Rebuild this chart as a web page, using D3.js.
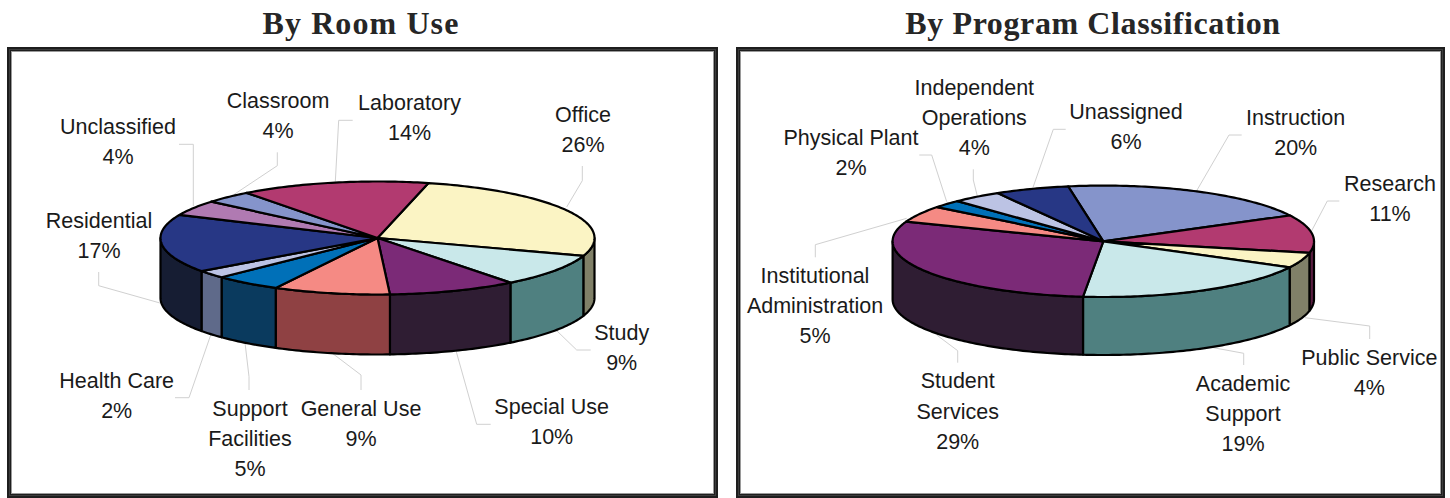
<!DOCTYPE html>
<html>
<head>
<meta charset="utf-8">
<script src="https://cdn.jsdelivr.net/npm/d3@7"></script>
<style>
  html, body { margin: 0; padding: 0; background: #fff; }
  svg { display: block; }
</style>
</head>
<body>
<div class="canvas"></div>
<script>
// By Room Use, shares, labels show them rounded
const roomCategories = ["Office", "Study", "Special Use", "General Use", "Support\nFacilities", "Health Care", "Residential", "Unclassified", "Classroom", "Laboratory"];
const roomValues = [26.4, 9.4, 9.6, 8.7, 5, 2.3, 16.7, 4.4, 3.6, 14.1];

// By Program Classification
const programCategories = ["Instruction", "Research", "Public Service", "Academic\nSupport", "Student\nServices", "Institutional\nAdministration", "Physical Plant", "Independent\nOperations", "Unassigned"];
const programValues = [20, 11, 4.4, 18.8, 29.2, 4.8, 2.3, 3.8, 5.7];

// colours, same order as the values above
const roomTop = ["#fbf4c4", "#c9e8ea", "#7b2a77", "#f58a84", "#0070b8", "#bcc3e4", "#273785", "#b07ab2", "#8594cb", "#b23a70"];
const roomWall = ["#808068", "#4f8080", "#2f1d33", "#8f4143", "#0a3a5e", "#5f6a8a", "#161d33", "#5a3e5c", "#444c68", "#5b1f42"];
const programTop = ["#8594cb", "#b23a70", "#fbf4c4", "#c9e8ea", "#7b2a77", "#f58a84", "#0070b8", "#bcc3e4", "#273785"];
const programWall = ["#444c68", "#5b1f42", "#808068", "#4f8080", "#2f1d33", "#8f4143", "#0a3a5e", "#5f6a8a", "#161d33"];

// label layout: x centre, first baseline, leader polyline
const roomLayout = [
  { x: 583, y: 122, leader: [[582.3, 166], [582.3, 180.7], [566.7, 207]] },
  { x: 621.7, y: 340, leader: [[590.7, 350], [576.7, 350], [556, 330]] },
  { x: 551.7, y: 414, leader: [[490.7, 424.3], [476.7, 424.3], [456, 350.7]] },
  { x: 361, y: 416, leader: [[361, 390], [361, 375], [332, 353]] },
  { x: 250, y: 416, leader: [[249, 390], [249, 376.7], [245, 342.7]] },
  { x: 116.7, y: 387.5, leader: [[175, 397.7], [189, 397.7], [210.7, 335]] },
  { x: 99, y: 227.7, leader: [[98.7, 272], [98.7, 285.7], [160, 303]] },
  { x: 118, y: 134, leader: [[179, 144.3], [193.3, 144.3], [193.3, 206]] },
  { x: 278, y: 107.7, leader: [[277.3, 152.3], [277.3, 165.7], [234.3, 194.3]] },
  { x: 409.5, y: 110, leader: [[352.7, 120.3], [338.7, 120.3], [335.3, 181.7]] }
];
const programLayout = [
  { x: 1295.7, y: 125, leader: [[1241.7, 135], [1229, 135], [1196.7, 190.7]] },
  { x: 1390, y: 190.7, leader: [[1339.3, 201], [1327.3, 201], [1311.7, 230.7]] },
  { x: 1369.3, y: 364.5, leader: [[1369.7, 339], [1369.7, 326], [1305, 317.7]] },
  { x: 1243, y: 390.7, leader: [[1243.7, 365], [1243.7, 353.3], [1213.3, 347.7]] },
  { x: 957.7, y: 388.3, leader: [[957.7, 362.7], [957.7, 350.7], [936.7, 335]] },
  { x: 815, y: 282.7, leader: [[815.3, 257.3], [815.3, 244.7], [906.7, 218.3]] },
  { x: 851, y: 145, leader: [[919.3, 155], [931.7, 155], [946.7, 201.7]] },
  { x: 974.3, y: 95, leader: [[973.3, 169.3], [973.3, 180], [977.3, 196]] },
  { x: 1126, y: 119, leader: [[1065.7, 129.3], [1053.3, 129.3], [1032.7, 188.3]] }
];

const svg = d3
  .select(".canvas")
  .append("svg")
  .attr("width", 1450)
  .attr("height", 498);

svg.append("rect").attr("width", 1450).attr("height", 498).attr("fill", "white");

const lineHeight = 30.2;
const deg = Math.PI / 180;

function drawFrame(x0, y0, x1, y1) {
  const g = svg.append("g");
  g.append("rect")
    .attr("x", x0).attr("y", y0)
    .attr("width", x1 - x0).attr("height", y1 - y0)
    .attr("fill", "#1e1e1e");
  g.append("rect")
    .attr("x", x0 + 2.5).attr("y", y0 + 2.5)
    .attr("width", x1 - x0 - 5).attr("height", y1 - y0 - 5)
    .attr("fill", "none")
    .attr("stroke", "#3c3c3c");
  g.append("rect")
    .attr("x", x0 + 4).attr("y", y0 + 4)
    .attr("width", x1 - x0 - 8).attr("height", y1 - y0 - 8)
    .attr("fill", "#9a9a9a");
  g.append("rect")
    .attr("x", x0 + 5).attr("y", y0 + 5)
    .attr("width", x1 - x0 - 10).attr("height", y1 - y0 - 10)
    .attr("fill", "white");
}

function drawTitle(text, x, spacing) {
  svg
    .append("text")
    .text(text)
    .attr("x", x)
    .attr("y", 34)
    .attr("text-anchor", "middle")
    .attr("font-family", "'Liberation Serif', serif")
    .attr("font-weight", "bold")
    .attr("font-size", 32)
    .attr("letter-spacing", spacing)
    .attr("fill", "#262626");
}

// one 3D pie. geo = centre, radii, depth and the angle of the first slice
function drawPie(categories, values, topColors, wallColors, layout, geo) {
  const xScale = d3.scaleLinear().domain([-1, 1]).range([geo.cx - geo.rx, geo.cx + geo.rx]);
  const yScale = d3.scaleLinear().domain([-1, 1]).range([geo.cy - geo.ry, geo.cy + geo.ry]);

  const slices = d3
    .pie()
    .sort(null)
    .startAngle(geo.start * deg)
    .endAngle(geo.start * deg + 2 * Math.PI)(values);

  const line = d3.line();

  function rim(a0, a1) {
    const n = Math.max(2, Math.ceil((a1 - a0) / deg));
    return d3.range(n + 1).map((i) => {
      const a = a0 + ((a1 - a0) * i) / n;
      return [xScale(Math.sin(a)), yScale(-Math.cos(a))];
    });
  }

  // leader lines go under the pie
  svg
    .append("g")
    .selectAll("path")
    .data(layout)
    .enter()
    .append("path")
    .attr("d", (d) => line(d.leader))
    .attr("fill", "none")
    .attr("stroke", "#d0d0d0")
    .attr("stroke-width", 1);

  // walls, only the front half (90 to 270 deg) can be seen
  const walls = svg.append("g");
  slices.forEach((s, i) => {
    [0, 2 * Math.PI].forEach((turn) => {
      const a0 = Math.max(s.startAngle, 90 * deg + turn);
      const a1 = Math.min(s.endAngle, 270 * deg + turn);
      if (a1 <= a0) return;
      const upper = rim(a0, a1);
      const lower = upper.map((p) => [p[0], p[1] + geo.depth]).reverse();
      walls
        .append("path")
        .attr("d", line(upper.concat(lower)) + "Z")
        .attr("fill", wallColors[i])
        .attr("stroke", "black")
        .attr("stroke-width", 2.2)
        .attr("stroke-linejoin", "round");
    });
  });

  // top face
  svg
    .append("g")
    .selectAll("path")
    .data(slices)
    .enter()
    .append("path")
    .attr("d", (s) => line([[xScale(0), yScale(0)]].concat(rim(s.startAngle, s.endAngle))) + "Z")
    .attr("fill", (s, i) => topColors[i])
    .attr("stroke", "black")
    .attr("stroke-width", 2.2)
    .attr("stroke-linejoin", "round");

  // labels
  categories.forEach((name, i) => {
    const lines = name.split("\n").concat(Math.round(values[i]) + "%");
    const text = svg
      .append("text")
      .attr("text-anchor", "middle")
      .attr("font-family", "'Liberation Sans', Arial, sans-serif")
      .attr("font-size", 21.5)
      .attr("fill", "#1a1a1a");
    lines.forEach((t, j) => {
      text
        .append("tspan")
        .text(t)
        .attr("x", layout[i].x)
        .attr("y", layout[i].y + j * lineHeight);
    });
  });
}

drawFrame(7, 47, 718, 498);
drawFrame(736, 47, 1445, 498);

drawTitle("By Room Use", 361, 1.1);
drawTitle("By Program Classification", 1093, 0.6);

drawPie(roomCategories, roomValues, roomTop, roomWall, roomLayout, {
  cx: 377.5,
  cy: 238,
  rx: 217,
  ry: 56.5,
  depth: 60,
  start: 13.6
});

drawPie(programCategories, programValues, programTop, programWall, programLayout, {
  cx: 1103.3,
  cy: 241.3,
  rx: 210.7,
  ry: 55.7,
  depth: 58,
  start: -9.6
});
</script>
</body>
</html>
